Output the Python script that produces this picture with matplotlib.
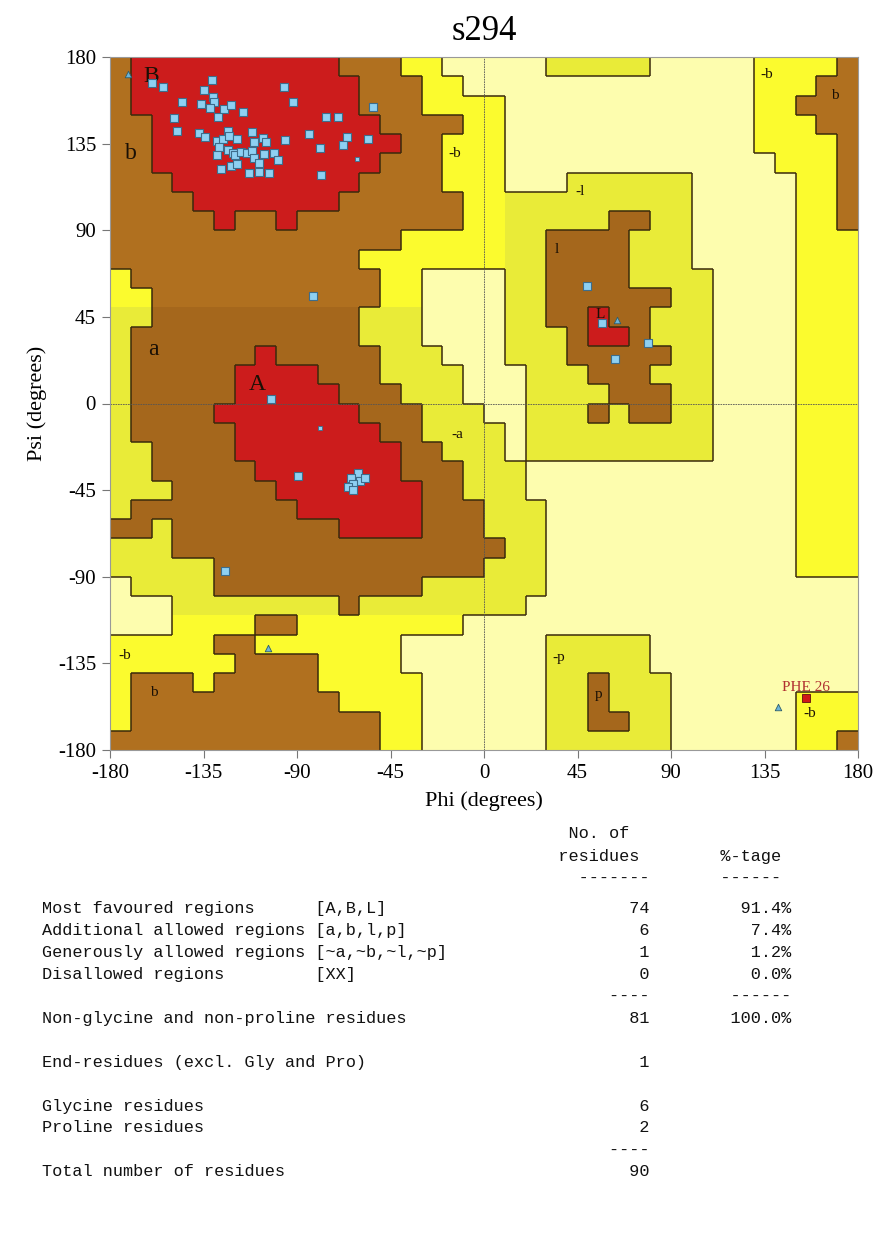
import numpy as np
import matplotlib
matplotlib.use("Agg")
import matplotlib.pyplot as plt
from matplotlib.colors import ListedColormap
from matplotlib.collections import LineCollection

plt.rcParams["axes.unicode_minus"] = False

# Ramachandran region map, 10 degree cells, rows from psi=180 down to -180,
# columns from phi=-180 to 180. Run-length coded: letter + count.
# R most favoured, B/D additional allowed, Y/G generously allowed, W disallowed
region_rle = [
    "B1 R10 B3 Y2 W5 G5 W5 Y4 B1",
    "B1 R11 B3 Y2 W14 Y3 B2",
    "B1 R11 B3 Y4 W12 Y2 B3",
    "B2 R11 B4 Y2 W12 Y3 B2",
    "B2 R12 B2 Y3 W12 Y4 B1",
    "B2 R11 B3 Y3 W13 Y3 B1",
    "B3 R9 B4 Y3 W3 G6 W5 Y2 B1",
    "B4 R7 B6 Y2 G9 W5 Y2 B1",
    "B5 R1 B2 R1 B8 Y2 G5 D2 G2 W5 Y2 B1",
    "B14 Y5 G2 D4 G3 W5 Y3",
    "B12 Y7 G2 D4 G3 W5 Y3",
    "Y1 B12 Y2 W4 G2 D4 G4 W4 Y3",
    "Y2 B11 Y2 W4 G2 D6 G2 W4 Y3",
    "G2 D10 G3 W4 G2 D2 R1 D2 G3 W4 Y3",
    "G1 D11 G3 W4 G3 D1 R2 D1 G3 W4 Y3",
    "G1 D6 R1 D5 G3 W3 G3 D5 G2 W4 Y3",
    "G1 D5 R4 D3 G4 W3 G3 D3 G3 W4 Y3",
    "G1 D5 R5 D3 G3 W3 G4 D3 G2 W4 Y3",
    "G1 D4 R7 D3 G3 W2 G3 D1 G1 D2 G2 W4 Y3",
    "G1 D5 R7 D2 G4 W1 G9 W4 Y3",
    "G2 D4 R8 D2 G3 W1 G9 W4 Y3",
    "G2 D5 R7 D3 G3 W13 Y3",
    "G3 D5 R7 D2 G3 W13 Y3",
    "G1 D8 R6 D3 G3 W12 Y3",
    "D2 G1 D8 R4 D3 G3 W12 Y3",
    "G3 D16 G2 W12 Y3",
    "G5 D13 G3 W12 Y3",
    "W1 G4 D10 G6 W15",
    "W3 G8 D1 G8 W16",
    "W3 Y4 B2 Y8 W19",
    "Y5 B2 Y7 W7 G5 W10",
    "Y6 B4 Y4 W7 G5 W10",
    "Y1 B3 Y1 B5 Y5 W6 G2 D1 G3 W9",
    "Y1 B10 Y4 W6 G2 D1 G3 W6 Y3",
    "Y1 B12 Y2 W6 G2 D2 G2 W6 Y3",
    "B13 Y2 W6 G6 W6 Y2 B1",
]

region_codes = "WYGBDR"
region_colors = ["#FDFDAE", "#FBFB2E", "#E9EB38", "#B0701F", "#A5671C", "#CC1C1C"]
region_level = {"W": 0, "Y": 1, "G": 1, "B": 2, "D": 2, "R": 3}

# residues (non-Gly, non-Pro) as phi, psi
phi_res = [-159.9, -154.3, -130.8, -134.6, -130.3, -129.8, -136.2, -131.9, -125.0, -121.9,
           -145.5, -127.9, -116.1, -96.3, -91.8, -149.2, -147.9, -137.2, -134.1, -123.2,
           -111.5, -128.5, -125.8, -122.9, -119.0, -110.6, -106.2, -105.1, -95.8, -84.2,
           -127.5, -123.1, -121.0, -119.8, -117.0, -114.2, -111.8, -110.6, -108.3, -105.9,
           -100.9, -99.3, -128.5, -121.8, -118.7, -126.7, -113.1, -108.2, -103.5, -78.9,
           -78.6, -76.0, -70.4, -66.1, -67.7, -53.6, -56.0, -82.2, -102.7, -89.4,
           -60.8, -64.0, -59.7, -57.3, -63.2, -65.3, -62.9, -124.7, 56.6, 79.1,
           63.0, 49.4]
psi_res = [166.3, 164.6, 168.0, 162.9, 159.4, 156.6, 155.4, 153.4, 153.0, 155.1,
           156.6, 149.0, 151.6, 164.6, 156.8, 148.2, 141.6, 140.4, 138.5, 141.6,
           141.2, 136.4, 137.3, 139.0, 137.3, 136.0, 137.8, 135.9, 136.9, 139.9,
           133.3, 131.6, 130.3, 129.1, 130.9, 130.0, 131.2, 127.7, 124.8, 129.8,
           130.0, 126.4, 129.0, 123.4, 124.3, 121.7, 119.7, 120.5, 120.0, 132.6,
           118.8, 148.9, 148.9, 138.7, 134.2, 154.2, 137.3, 56.0, 2.4, -37.9,
           -36.0, -38.7, -40.5, -38.5, -41.7, -43.4, -44.8, -87.0, 41.8, 31.5,
           23.2, 60.8]
# smaller markers
phi_small = [-78.9, -61.3]
psi_small = [-12.8, 127.2]
# glycines
phi_gly = [-171.3, -104.0, 141.5, 64.0]
psi_gly = [171.2, -127.0, -157.7, 43.6]
# flagged residue
phi_flag = [155.0]
psi_flag = [-153.0]
flag_name = "PHE 26"

label_big = [("B", -160, 170), ("b", -170, 130), ("A", -109, 10), ("a", -159, 28)]
label_small = [("l", 35, 80), ("-l", 46, 110), ("-b", -14, 130), ("-b", 136, 171),
               ("b", 169, 160), ("-a", -13, -16), ("-b", -173, -131), ("b", -159, -150),
               ("-p", 36, -132), ("p", 55, -151), ("-b", 157, -161), ("L", 56, 46)]

# summary table
table_names = ["Most favoured regions", "Additional allowed regions",
               "Generously allowed regions", "Disallowed regions"]
table_sets = ["[A,B,L]", "[a,b,l,p]", "[~a,~b,~l,~p]", "[XX]"]
table_counts = [74, 6, 1, 0]
table_pcts = [91.4, 7.4, 1.2, 0.0]
n_nongly = 81
n_end = 1
n_gly = 6
n_pro = 2
n_total = 90


def decode(rle):
    row = ""
    for tok in rle.split():
        row += tok[0] * int(tok[1:])
    assert len(row) == 36, rle
    return row


rows = [decode(r) for r in region_rle]
grid = np.array([[region_codes.index(c) for c in r] for r in rows])
levels = np.array([[region_level[c] for c in r] for r in rows])

edges = np.arange(-180, 181, 10)

fig = plt.figure(figsize=(8.79, 12.43), dpi=100)
ax = fig.add_axes([110 / 879, 1 - 750 / 1243, 748 / 879, 693 / 1243])

cmap = ListedColormap(region_colors)
ax.pcolormesh(edges, edges, np.flipud(grid), cmap=cmap, vmin=-0.5, vmax=5.5)

# dark outlines where the region type changes
segs = []
for r in range(36):
    top = 180 - 10 * r
    for c in range(36):
        left = -180 + 10 * c
        if c < 35 and levels[r, c] != levels[r, c + 1]:
            segs.append([(left + 10, top - 10), (left + 10, top)])
        if r < 35 and levels[r, c] != levels[r + 1, c]:
            segs.append([(left, top - 10), (left + 10, top - 10)])
ax.add_collection(LineCollection(segs, colors="#3a2a0c", linewidths=1.1, zorder=2))

ax.axhline(0, color="#555555", lw=0.6, ls=(0, (2, 1)), zorder=2)
ax.axvline(0, color="#555555", lw=0.6, ls=(0, (2, 1)), zorder=2)

ax.scatter(phi_res, psi_res, marker="s", s=32, c="#8ED0F2", edgecolors="#3d6d8c",
           linewidths=0.8, zorder=4)
ax.scatter(phi_small, psi_small, marker="s", s=10, c="#8ED0F2", edgecolors="#3d6d8c",
           linewidths=0.6, zorder=4)
ax.scatter(phi_gly, psi_gly, marker="^", s=22, c="#6CB4D8", edgecolors="#2d5d6c",
           linewidths=0.6, zorder=4)
ax.scatter(phi_flag, psi_flag, marker="s", s=30, c="#D01818", edgecolors="#601010",
           linewidths=0.6, zorder=4)
ax.text(phi_flag[0], psi_flag[0] + 5.7, flag_name, color="#B03030", fontsize=11,
        family="Liberation Serif", ha="center", va="center", zorder=5)

for txt, x, y in label_big:
    ax.text(x, y, txt, fontsize=17, family="Liberation Serif", ha="center",
            va="center", color="#1a1005", zorder=3)
for txt, x, y in label_small:
    ax.text(x, y, txt, fontsize=11, family="Liberation Serif", ha="center",
            va="center", color="#1a1005", zorder=3)

ax.set_xlim(-180, 180)
ax.set_ylim(-180, 180)
ticks = np.arange(-180, 181, 45)
ax.set_xticks(ticks)
ax.set_yticks(ticks)
ax.tick_params(direction="out", length=6, width=0.8, color="#777777",
               labelsize=15, pad=4)
for lab in ax.get_xticklabels() + ax.get_yticklabels():
    lab.set_family("Liberation Serif")
for sp in ax.spines.values():
    sp.set_color("#999999")
    sp.set_linewidth(0.8)

ax.set_xlabel("Phi (degrees)", fontsize=16, family="Liberation Serif", labelpad=6)
ax.set_ylabel("Psi (degrees)", fontsize=16, family="Liberation Serif", labelpad=8)
ax.set_title("s294", fontsize=25, family="Liberation Serif", pad=12)

# table below the plot
mono = dict(family="Liberation Mono", fontsize=12.18, ha="left", va="center",
            color="#111111", transform=fig.transFigure)
x0 = 42 / 879


def put(line, ypix):
    fig.text(x0, 1 - ypix / 1243, line, **mono)


put(" " * 52 + "No. of", 833)
put(" " * 51 + "residues" + " " * 8 + "%-tage", 856)
put(" " * 53 + "-------" + " " * 7 + "------", 878)
for i in range(4):
    put(f"{(table_names[i].ljust(27) + table_sets[i]):<56}{table_counts[i]:>4}"
        f"{table_pcts[i]:>13.1f}%", 908 + 22 * i)
put(" " * 56 + "----" + " " * 8 + "------", 996)
put(f"{'Non-glycine and non-proline residues':<56}{n_nongly:>4}{100.0:>13.1f}%", 1018)
put(f"{'End-residues (excl. Gly and Pro)':<56}{n_end:>4}", 1062)
put(f"{'Glycine residues':<56}{n_gly:>4}", 1106)
put(f"{'Proline residues':<56}{n_pro:>4}", 1128)
put(" " * 56 + "----", 1150)
put(f"{'Total number of residues':<56}{n_total:>4}", 1172)

fig.savefig("out.png", dpi=100)
